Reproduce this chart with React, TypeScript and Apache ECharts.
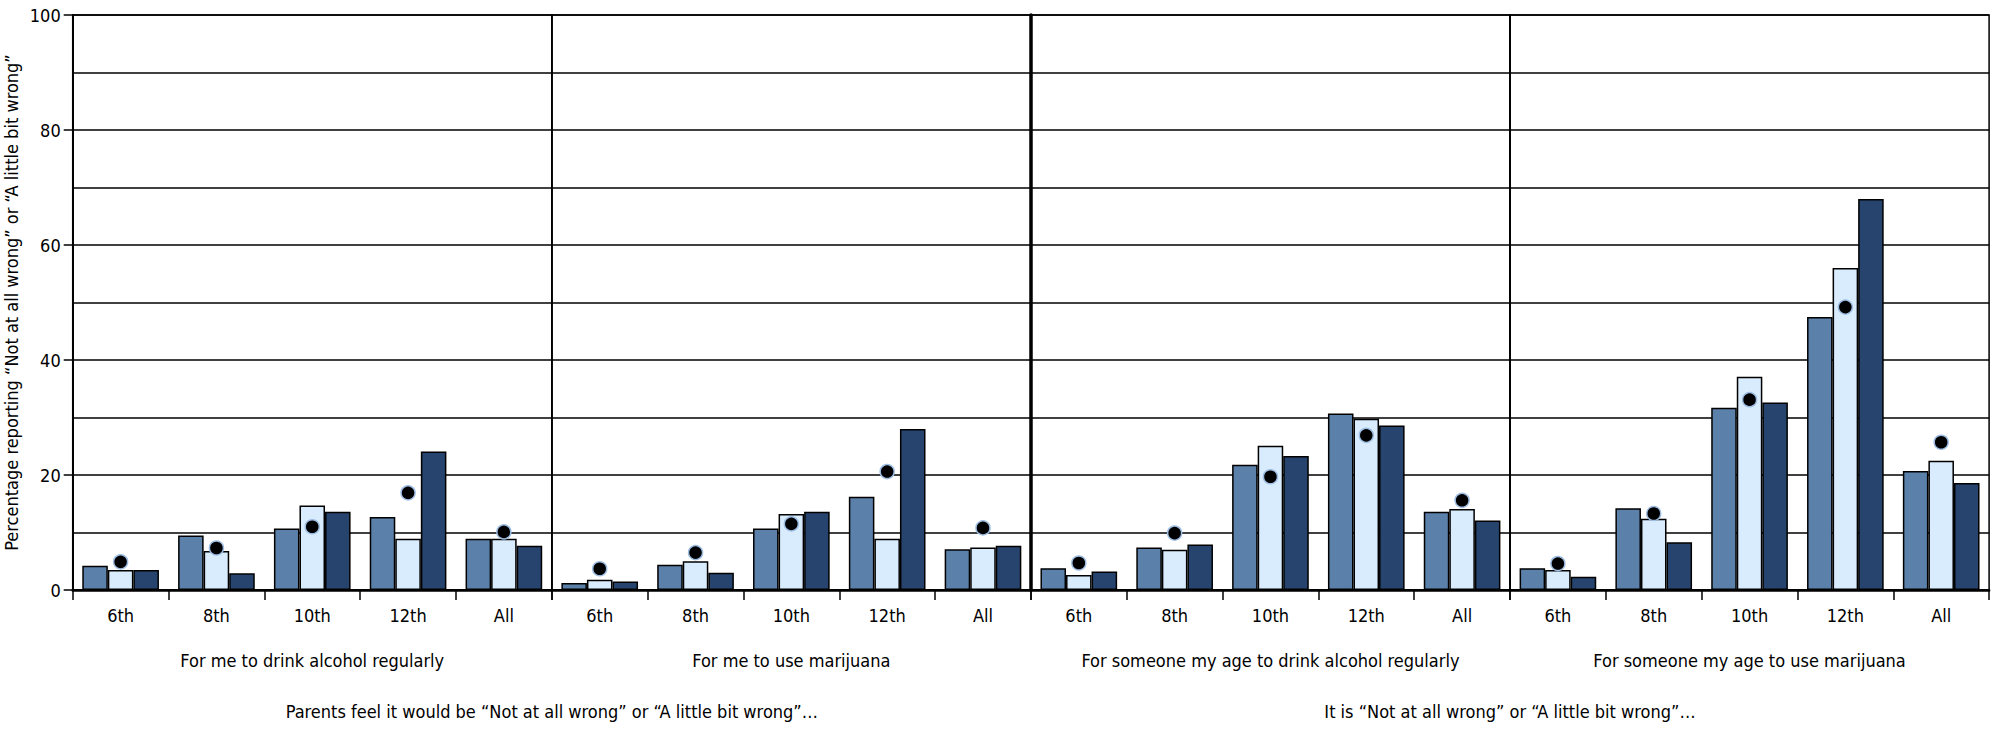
import React, { useEffect, useRef } from "react";
import * as echarts from "echarts";

// ---- Data ----
const categories = ["6th", "8th", "10th", "12th", "All"];
const panelTitles = [
  "For me to drink alcohol regularly",
  "For me to use marijuana",
  "For someone my age to drink alcohol regularly",
  "For someone my age to use marijuana",
];
const groupTitles = [
  "Parents feel it would be \u201CNot at all wrong\u201D or \u201CA little bit wrong\u201D\u2026",
  "It is \u201CNot at all wrong\u201D or \u201CA little bit wrong\u201D\u2026",
];
const yAxisTitle = "Percentage reporting \u201CNot at all wrong\u201D or \u201CA little bit wrong\u201D";

// bars per panel: [first (medium blue), second (light blue), third (dark navy)] and dot marker
const parentsAlcoholA = [4.2, 9.5, 10.7, 12.7, 8.9];
const parentsAlcoholB = [3.5, 6.8, 14.7, 8.9, 8.9];
const parentsAlcoholC = [3.5, 2.9, 13.6, 24.1, 7.7];
const parentsAlcoholDot = [4.9, 7.3, 11.0, 16.9, 10.1];

const parentsMarijuanaA = [1.2, 4.4, 10.7, 16.2, 7.1];
const parentsMarijuanaB = [1.8, 5.0, 13.2, 8.9, 7.4];
const parentsMarijuanaC = [1.5, 3.0, 13.6, 28.0, 7.7];
const parentsMarijuanaDot = [3.7, 6.5, 11.5, 20.6, 10.8];

const peerAlcoholA = [3.8, 7.4, 21.8, 30.7, 13.6];
const peerAlcoholB = [2.6, 7.0, 25.1, 29.8, 14.1];
const peerAlcoholC = [3.2, 7.9, 23.3, 28.6, 12.1];
const peerAlcoholDot = [4.7, 9.9, 19.7, 26.9, 15.6];

const peerMarijuanaA = [3.8, 14.2, 31.7, 47.5, 20.7];
const peerMarijuanaB = [3.5, 12.4, 37.1, 56.0, 22.5];
const peerMarijuanaC = [2.3, 8.3, 32.6, 68.0, 18.6];
const peerMarijuanaDot = [4.6, 13.3, 33.1, 49.2, 25.7];

const panels = [
  [parentsAlcoholA, parentsAlcoholB, parentsAlcoholC, parentsAlcoholDot],
  [parentsMarijuanaA, parentsMarijuanaB, parentsMarijuanaC, parentsMarijuanaDot],
  [peerAlcoholA, peerAlcoholB, peerAlcoholC, peerAlcoholDot],
  [peerMarijuanaA, peerMarijuanaB, peerMarijuanaC, peerMarijuanaDot],
];

const barColors = ["#5b80a9", "#d9ecfd", "#26446e"];
const FONT = '"Liberation Sans Narrow", "DejaVu Sans Condensed", "Roboto", sans-serif';

export default function App() {
  const ref = useRef<HTMLDivElement>(null);

  useEffect(() => {
    document.body.style.margin = "0";
    if (!ref.current) return;
    const chart = echarts.init(ref.current, null, { renderer: "svg" });

    const left0 = 72.7;
    const pw = 479.1;
    const top = 15;
    const h = 575;

    const grids: any[] = [];
    const xAxes: any[] = [];
    const yAxes: any[] = [];
    const series: any[] = [];

    panels.forEach((p, i) => {
      grids.push({
        left: left0 + i * pw,
        top,
        width: pw,
        height: h,
        show: true,
        borderColor: "#000",
        borderWidth: 1.5,
        backgroundColor: "transparent",
      });
      xAxes.push({
        type: "category",
        gridIndex: i,
        data: categories,
        axisLine: { show: true, lineStyle: { color: "#000", width: 2.5 } },
        axisTick: { show: true, length: 10, lineStyle: { color: "#000", width: 1.5 } },
        axisLabel: { color: "#000", fontSize: 18, fontFamily: FONT, margin: 16 },
        splitLine: { show: false },
        z: 5,
      });
      yAxes.push({
        type: "value",
        gridIndex: i,
        min: 0,
        max: 100,
        interval: 20,
        axisLine: { show: true, lineStyle: { color: "#000", width: i === 2 ? 3.5 : i === 0 ? 2 : 1.5 } },
        axisTick: { show: i === 0, length: 9, lineStyle: { color: "#000", width: 1.5 } },
        axisLabel: { show: i === 0, color: "#000", fontSize: 18, fontFamily: FONT, margin: 12 },
        splitLine: { show: true, lineStyle: { color: "#000", width: 1.5 } },
        minorTick: { show: false, splitNumber: 2 },
        minorSplitLine: { show: true, lineStyle: { color: "#000", width: 1.5 } },
        name: i === 0 ? yAxisTitle : "",
        nameLocation: "middle",
        nameRotate: 90,
        nameGap: 52,
        nameTextStyle: { color: "#000", fontSize: 18, fontFamily: FONT },
        z: 4,
      });
      for (let k = 0; k < 3; k++) {
        series.push({
          type: "bar",
          xAxisIndex: i,
          yAxisIndex: i,
          data: p[k],
          barGap: "0%",
          barCategoryGap: "20%",
          itemStyle: { color: barColors[k], borderColor: "#000", borderWidth: 1.5 },
          z: 6,
        });
      }
      series.push({
        type: "scatter",
        xAxisIndex: i,
        yAxisIndex: i,
        data: p[3],
        symbol: "circle",
        symbolSize: 14,
        itemStyle: { color: "#000", opacity: 1, borderColor: "#9dbde3", borderWidth: 1.5 },
        z: 10,
      });
    });

    const graphic: any[] = [];
    panelTitles.forEach((t, i) => {
      graphic.push({
        type: "text",
        x: left0 + (i + 0.5) * pw,
        y: 660,
        style: { text: t, fill: "#000", fontSize: 18, fontFamily: FONT, textAlign: "center", textVerticalAlign: "middle" },
      });
    });
    groupTitles.forEach((t, j) => {
      graphic.push({
        type: "text",
        x: left0 + (2 * j + 1) * pw,
        y: 711,
        style: { text: t, fill: "#000", fontSize: 18, fontFamily: FONT, textAlign: "center", textVerticalAlign: "middle" },
      });
    });

    chart.setOption({
      animation: false,
      backgroundColor: "#fff",
      grid: grids,
      xAxis: xAxes,
      yAxis: yAxes,
      series,
      graphic,
    });

    return () => chart.dispose();
  }, []);

  return <div ref={ref} style={{ width: 1999, height: 731 }} />;
}
